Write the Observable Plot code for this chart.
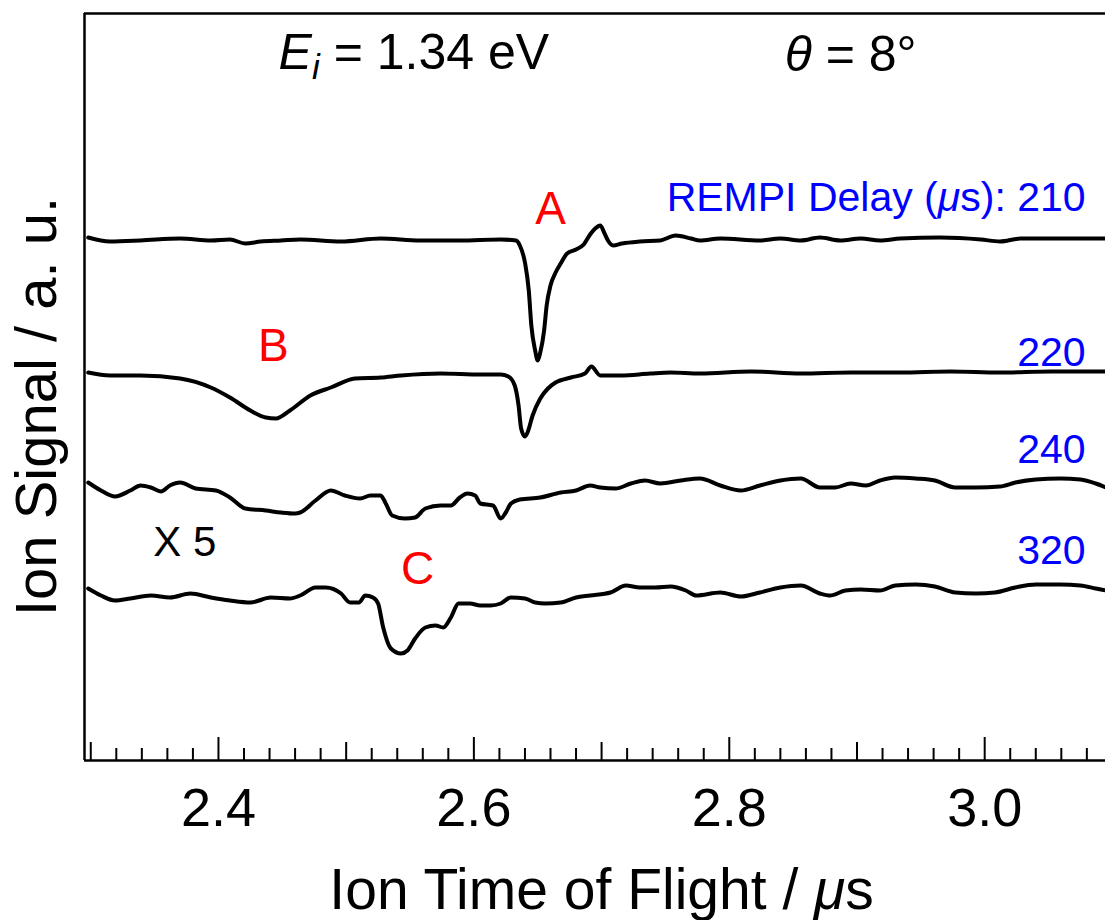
<!DOCTYPE html>
<html><head><meta charset="utf-8">
<script src="https://cdn.jsdelivr.net/npm/d3@7"></script>
<script src="https://cdn.jsdelivr.net/npm/@observablehq/plot@0.6"></script>
<style>body{margin:0;background:#fff} svg{display:block}</style>
</head><body><div id="chart"></div>
<script>
// Ion time of flight (μs) and ion signal (a.u., traces vertically offset)
const t210 = [2.298,2.315,2.339,2.370,2.394,2.409,2.421,2.433,2.449,2.464,2.496,2.527,2.558,2.589,2.621,2.633,2.636,2.640,2.643,2.645,2.648,2.650,2.652,2.655,2.657,2.660,2.664,2.668,2.673,2.680,2.686,2.691,2.695,2.699,2.702,2.705,2.709,2.716,2.730,2.746,2.758,2.770,2.777,2.793,2.824,2.840,2.856,2.871,2.887,2.903,2.918,2.934,2.965,2.997,3.012,3.028,3.059,3.083,3.095];
const s210 = [5.23,5.19,5.20,5.22,5.20,5.21,5.17,5.19,5.20,5.21,5.19,5.22,5.20,5.20,5.21,5.20,5.15,4.98,4.70,4.35,4.10,4.00,4.08,4.30,4.55,4.75,4.88,4.97,5.07,5.11,5.16,5.26,5.32,5.35,5.28,5.20,5.15,5.17,5.19,5.20,5.25,5.22,5.20,5.22,5.20,5.22,5.20,5.23,5.20,5.22,5.20,5.22,5.23,5.21,5.19,5.22,5.22,5.22,5.22];

const t220 = [2.298,2.315,2.339,2.370,2.394,2.409,2.425,2.437,2.445,2.456,2.472,2.488,2.507,2.527,2.543,2.574,2.605,2.621,2.627,2.632,2.635,2.637,2.640,2.642,2.646,2.652,2.658,2.664,2.676,2.687,2.692,2.699,2.715,2.738,2.754,2.777,2.817,2.856,2.895,2.934,2.973,3.012,3.052,3.095];
const s220 = [3.88,3.85,3.85,3.82,3.73,3.63,3.50,3.43,3.42,3.50,3.65,3.73,3.82,3.83,3.85,3.87,3.86,3.86,3.84,3.75,3.55,3.32,3.24,3.28,3.45,3.62,3.72,3.78,3.83,3.87,3.94,3.85,3.85,3.87,3.88,3.87,3.89,3.87,3.88,3.88,3.89,3.88,3.89,3.89];

const t240 = [2.298,2.308,2.319,2.331,2.339,2.347,2.355,2.362,2.370,2.382,2.398,2.409,2.421,2.437,2.449,2.460,2.464,2.476,2.488,2.499,2.511,2.519,2.527,2.531,2.536,2.546,2.554,2.562,2.574,2.582,2.589,2.595,2.601,2.605,2.615,2.621,2.625,2.629,2.636,2.652,2.668,2.680,2.691,2.699,2.711,2.723,2.734,2.746,2.762,2.777,2.793,2.809,2.824,2.840,2.856,2.871,2.883,2.895,2.907,2.918,2.930,2.946,2.961,2.977,2.993,3.012,3.024,3.040,3.059,3.075,3.087,3.095];
const s240 = [2.78,2.70,2.64,2.70,2.75,2.73,2.69,2.75,2.78,2.72,2.70,2.63,2.52,2.50,2.48,2.47,2.48,2.60,2.70,2.65,2.62,2.65,2.65,2.57,2.45,2.42,2.43,2.52,2.55,2.55,2.63,2.67,2.65,2.57,2.55,2.42,2.48,2.57,2.61,2.63,2.68,2.70,2.75,2.73,2.72,2.77,2.80,2.77,2.80,2.82,2.75,2.70,2.75,2.80,2.82,2.73,2.73,2.77,2.75,2.80,2.83,2.82,2.80,2.73,2.73,2.74,2.78,2.81,2.82,2.81,2.77,2.73];

const t320 = [2.298,2.308,2.319,2.331,2.347,2.362,2.378,2.394,2.409,2.425,2.441,2.456,2.464,2.476,2.484,2.496,2.503,2.510,2.515,2.521,2.525,2.529,2.535,2.543,2.548,2.554,2.562,2.570,2.576,2.582,2.588,2.597,2.605,2.613,2.621,2.629,2.640,2.648,2.656,2.668,2.680,2.691,2.707,2.719,2.730,2.742,2.754,2.766,2.774,2.793,2.809,2.824,2.840,2.856,2.871,2.879,2.891,2.903,2.918,2.930,2.946,2.961,2.977,2.993,3.008,3.024,3.040,3.059,3.075,3.087,3.095];
const s320 = [1.72,1.65,1.60,1.62,1.65,1.63,1.67,1.63,1.60,1.58,1.63,1.62,1.65,1.73,1.73,1.67,1.58,1.58,1.65,1.63,1.57,1.33,1.12,1.07,1.10,1.22,1.33,1.35,1.33,1.43,1.57,1.57,1.55,1.55,1.57,1.63,1.62,1.58,1.57,1.58,1.63,1.65,1.68,1.75,1.73,1.73,1.74,1.70,1.65,1.68,1.64,1.68,1.73,1.75,1.67,1.65,1.70,1.71,1.70,1.75,1.76,1.74,1.68,1.67,1.68,1.73,1.76,1.76,1.75,1.72,1.70];

const delays = ["210", "220", "240", "320"];
const delayLabelY = [5.50, 3.95, 2.98, 1.97];
const peakLabels = ["A", "B", "C"];
const peakT = [2.660, 2.443, 2.556];
const peakY = [5.37, 4.00, 1.77];
const xTickLabels = [2.4, 2.6, 2.8, 3.0];

const series = [[t210, s210], [t220, s220], [t240, s240], [t320, s320]];
const rows = [];
series.forEach(([t, s], k) => t.forEach((x, i) => rows.push({t: x, s: s[i], delay: delays[k]})));

const W = 1105, H = 920, mL = 84, mT = 13, mB = 160, mR = 0;
const plotH = H - mT - mB;
const xDomain = [2.2951, 3.0946];
const yDomain = [0, 7.47];
const allTicks = d3.range(115, 155).map(i => i / 50);
const majorT = allTicks.filter(d => Math.round(d * 50) % 10 === 0);
const mediumT = allTicks.filter(d => Math.round(d * 50) % 10 === 5);
const minorT = allTicks.filter(d => Math.round(d * 50) % 5 !== 0);

const FONT = "'Liberation Sans', Arial, Helvetica, sans-serif";
const delayRows = delays.map((d, i) => ({label: i === 0 ? "REMPI Delay (μs): " + d : d, y: delayLabelY[i]}));
const peakRows = peakLabels.map((d, i) => ({label: d, t: peakT[i], y: peakY[i]}));

const chart = Plot.plot({
  width: W, height: H,
  marginLeft: mL, marginTop: mT, marginBottom: mB, marginRight: mR,
  style: {fontFamily: FONT, background: "#fff", overflow: "hidden"},
  x: {domain: xDomain, label: null},
  y: {domain: yDomain, axis: null},
  marks: [
    Plot.ruleX(minorT, {x: d => d, insetTop: plotH - 12, stroke: "#000", strokeWidth: 2}),
    Plot.ruleX(mediumT, {x: d => d, insetTop: plotH - 18, stroke: "#000", strokeWidth: 2}),
    Plot.ruleX(majorT, {x: d => d, insetTop: plotH - 23, stroke: "#000", strokeWidth: 2}),
    Plot.axisX(xTickLabels, {tickSize: 0, tickPadding: 27, tickFormat: d => d.toFixed(1), fontSize: 54, fill: "#000", label: null}),
    Plot.ruleY([yDomain[0]], {stroke: "#000", strokeWidth: 2.5}),
    Plot.ruleY([yDomain[1]], {stroke: "#000", strokeWidth: 2.5}),
    Plot.ruleX([xDomain[0]], {stroke: "#000", strokeWidth: 2.5}),
    Plot.line(rows, {x: "t", y: "s", z: "delay", stroke: "#000", strokeWidth: 4, curve: "monotone-x", strokeLinejoin: "round"}),
    Plot.text(delayRows, {x: 3.079, y: "y", text: "label", textAnchor: "end", lineAnchor: "bottom", fill: "#0000ff", fontSize: 41}),
    Plot.text(peakRows, {x: "t", y: "y", text: "label", textAnchor: "middle", lineAnchor: "bottom", fill: "#ff0000", fontSize: 46}),
    Plot.text(["X 5"], {x: 2.349, y: 2.05, textAnchor: "start", lineAnchor: "bottom", fill: "#000", fontSize: 42}),
    Plot.text(["Ei = 1.34 eV"], {x: 2.553, y: 6.92, textAnchor: "middle", lineAnchor: "bottom", fill: "#000", fontSize: 50}),
    Plot.text(["θ = 8°"], {x: 2.895, y: 6.90, textAnchor: "middle", lineAnchor: "bottom", fill: "#000", fontSize: 50}),
    Plot.text(["Ion Time of Flight / μs"], {x: 2.700, frameAnchor: "bottom", dy: 148, textAnchor: "middle", lineAnchor: "bottom", fill: "#000", fontSize: 57}),
    Plot.text(["Ion Signal / a. u."], {y: 3.54, frameAnchor: "left", dx: -29, rotate: -90, textAnchor: "middle", lineAnchor: "bottom", fill: "#000", fontSize: 58})
  ]
});

// rich text: italics and subscripts
const rich = {
  "Ei = 1.34 eV": [["E", {italic: true}], ["i", {italic: true, sub: true}], [" = 1.34 eV", {back: true}]],
  "θ = 8°": [["θ", {italic: true}], [" = 8°", {}]],
  "REMPI Delay (μs): 210": [["REMPI Delay (", {}], ["μ", {italic: true}], ["s): 210", {}]],
  "Ion Time of Flight / μs": [["Ion Time of Flight / ", {}], ["μ", {italic: true}], ["s", {}]]
};
d3.select(chart).selectAll("text").each(function () {
  const spec = rich[this.textContent];
  if (!spec) return;
  const el = d3.select(this);
  el.text(null);
  for (const [str, o] of spec) {
    const ts = el.append("tspan").text(str);
    if (o.italic) ts.attr("font-style", "italic");
    if (o.sub) ts.attr("font-size", "0.7em").attr("dy", 10);
    if (o.back) ts.attr("dy", -10);
  }
});

document.getElementById("chart").appendChild(chart);
</script>
</body></html>
